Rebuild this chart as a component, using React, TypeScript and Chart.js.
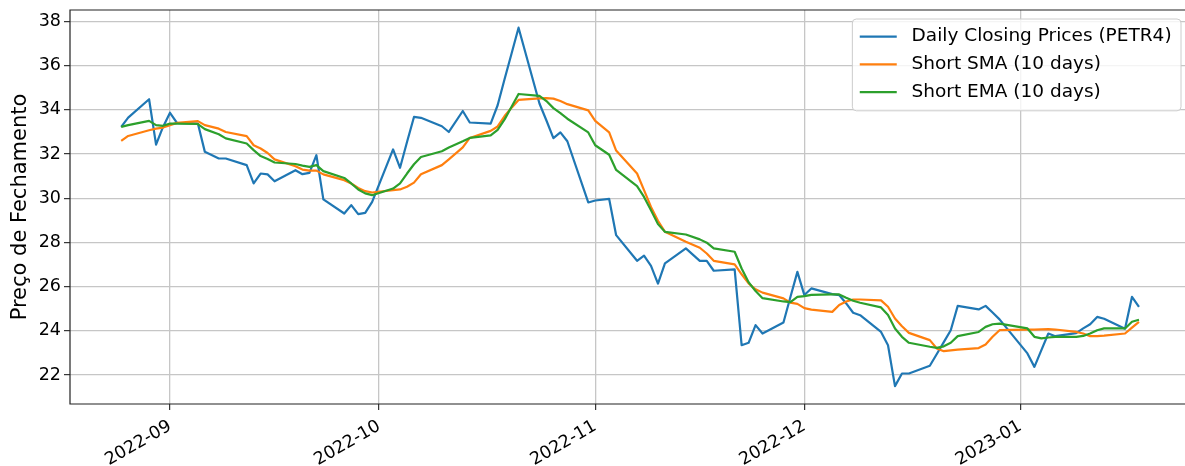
import React, { useEffect, useRef } from 'react';
import { Chart, registerables } from 'chart.js';

Chart.register(...registerables);

// ---------- data ----------
const tradingDates: string[] = [
  '2022-08-25', '2022-08-26', '2022-08-29', '2022-08-30', '2022-08-31',
  '2022-09-01', '2022-09-02', '2022-09-05', '2022-09-06', '2022-09-08', '2022-09-09', '2022-09-12', '2022-09-13', '2022-09-14', '2022-09-15', '2022-09-16', '2022-09-19', '2022-09-20', '2022-09-21', '2022-09-22', '2022-09-23', '2022-09-26', '2022-09-27', '2022-09-28', '2022-09-29', '2022-09-30',
  '2022-10-03', '2022-10-04', '2022-10-05', '2022-10-06', '2022-10-07', '2022-10-10', '2022-10-11', '2022-10-13', '2022-10-14', '2022-10-17', '2022-10-18', '2022-10-19', '2022-10-20', '2022-10-21', '2022-10-24', '2022-10-25', '2022-10-26', '2022-10-27', '2022-10-28', '2022-10-31',
  '2022-11-01', '2022-11-03', '2022-11-04', '2022-11-07', '2022-11-08', '2022-11-09', '2022-11-10', '2022-11-11', '2022-11-14', '2022-11-16', '2022-11-17', '2022-11-18', '2022-11-21', '2022-11-22', '2022-11-23', '2022-11-24', '2022-11-25', '2022-11-28', '2022-11-29', '2022-11-30',
  '2022-12-01', '2022-12-02', '2022-12-05', '2022-12-06', '2022-12-07', '2022-12-08', '2022-12-09', '2022-12-12', '2022-12-13', '2022-12-14', '2022-12-15', '2022-12-16', '2022-12-19', '2022-12-20', '2022-12-21', '2022-12-22', '2022-12-23', '2022-12-26', '2022-12-27', '2022-12-28', '2022-12-29',
  '2023-01-02', '2023-01-03', '2023-01-04', '2023-01-05', '2023-01-06', '2023-01-09', '2023-01-10', '2023-01-11', '2023-01-12', '2023-01-13', '2023-01-16', '2023-01-17', '2023-01-18',
];

const closePrices: number[] = [
  33.23, 33.65, 34.48, 32.43, 33.23,
  33.87, 33.41, 33.38, 32.10, 31.80, 31.80, 31.50, 30.67, 31.12, 31.08, 30.77, 31.27, 31.09, 31.15, 31.95, 29.95, 29.31, 29.69, 29.28, 29.34, 29.84,
  32.21, 31.38, 32.55, 33.68, 33.64, 33.26, 33.00, 33.95, 33.43, 33.38, 34.21, 35.40, 36.55, 37.72, 34.29, 33.52, 32.72, 32.98, 32.58, 29.81,
  29.90, 29.97, 28.33, 27.17, 27.40, 26.94, 26.14, 27.05, 27.73, 27.17, 27.17, 26.72, 26.78, 23.35, 23.46, 24.26, 23.88, 24.38, 25.53, 26.67,
  25.62, 25.92, 25.66, 25.62, 25.24, 24.82, 24.71, 23.95, 23.35, 21.50, 22.07, 22.07, 22.42, 22.95, 23.49, 24.03, 25.13, 24.97, 25.13, 24.83, 24.52,
  22.98, 22.37, 23.13, 23.88, 23.76, 23.90, 24.11, 24.30, 24.63, 24.55, 24.10, 25.54, 25.09,
];

const smaValues: number[] = [
  32.60, 32.82, 33.08, 33.15, 33.20,
  33.31, 33.41, 33.49, 33.31, 33.15, 33.00, 32.81, 32.40, 32.25, 32.05, 31.76, 31.45, 31.30, 31.25, 31.25, 31.08, 30.82, 30.67, 30.47, 30.32, 30.26,
  30.37, 30.40, 30.52, 30.71, 31.09, 31.50, 31.76, 32.30, 32.73, 33.05, 33.25, 33.72, 34.10, 34.45, 34.52, 34.53, 34.51, 34.40, 34.26, 33.98,
  33.50, 32.98, 32.16, 31.12, 30.37, 29.61, 28.98, 28.48, 28.03, 27.76, 27.50, 27.17, 27.01, 26.56, 26.15, 25.88, 25.73, 25.47, 25.28, 25.22,
  25.03, 24.96, 24.86, 25.17, 25.33, 25.42, 25.42, 25.38, 25.09, 24.56, 24.21, 23.91, 23.58, 23.20, 23.08, 23.12, 23.15, 23.22, 23.38, 23.73, 24.03,
  24.06, 24.06, 24.07, 24.08, 24.06, 23.95, 23.88, 23.76, 23.76, 23.78, 23.88, 24.15, 24.41,
];

const emaValues: number[] = [
  33.23, 33.31, 33.50, 33.31, 33.28,
  33.38, 33.38, 33.36, 33.13, 32.90, 32.71, 32.48, 32.18, 31.91, 31.78, 31.62, 31.55, 31.48, 31.42, 31.50, 31.23, 30.92, 30.67, 30.40, 30.22, 30.14,
  30.44, 30.67, 31.12, 31.54, 31.87, 32.13, 32.30, 32.58, 32.73, 32.85, 33.10, 33.57, 34.14, 34.72, 34.63, 34.40, 34.08, 33.85, 33.60, 32.98,
  32.40, 31.97, 31.28, 30.55, 30.06, 29.46, 28.83, 28.48, 28.36, 28.14, 27.99, 27.73, 27.58, 26.82, 26.20, 25.80, 25.48, 25.33, 25.30, 25.54,
  25.57, 25.63, 25.65, 25.65, 25.50, 25.36, 25.27, 25.06, 24.72, 24.11, 23.73, 23.46, 23.28, 23.23, 23.30, 23.46, 23.76, 23.95, 24.18, 24.30, 24.33,
  24.11, 23.73, 23.66, 23.70, 23.73, 23.73, 23.77, 23.88, 24.03, 24.11, 24.11, 24.41, 24.50,
];

const seriesLabels: string[] = ['Daily Closing Prices (PETR4)', 'Short SMA (10 days)', 'Short EMA (10 days)'];
const seriesColors: string[] = ['#1f77b4', '#ff7f0e', '#2ca02c'];

const xTickDates: string[] = ['2022-09-01', '2022-10-01', '2022-11-01', '2022-12-01', '2023-01-01'];
const xTickLabels: string[] = ['2022-09', '2022-10', '2022-11', '2022-12', '2023-01'];
const yTicks: number[] = [22, 24, 26, 28, 30, 32, 34, 36, 38];
const yAxisTitle = 'Preço de Fechamento';

// ---------- helpers ----------
const BASE = Date.UTC(2022, 8, 1);
const toDay = (s: string): number => {
  const [y, m, d] = s.split('-').map(Number);
  return (Date.UTC(y, m - 1, d) - BASE) / 86400000;
};

const FONT = "'DejaVu Sans', sans-serif";
const W = 1185;
const H = 466;
const PLOT_LEFT = 70;
const PLOT_TOP = 10;
const PLOT_BOTTOM = 404;

const framePlugin = {
  id: 'mplFrame',
  afterDatasetsDraw(chart: any) {
    const { ctx, chartArea } = chart;
    const { left, top, right, bottom } = chartArea;
    ctx.save();
    ctx.strokeStyle = '#222';
    ctx.lineWidth = 1.2;
    ctx.beginPath();
    ctx.moveTo(right + 5, top);
    ctx.lineTo(left, top);
    ctx.lineTo(left, bottom);
    ctx.lineTo(right + 5, bottom);
    ctx.stroke();
    ctx.restore();
  },
};

const legendPlugin = {
  id: 'mplLegend',
  afterDraw(chart: any) {
    const { ctx } = chart;
    const fs = 18.5;
    const right = 1181;
    const top = 19;
    const pad = 0.4 * fs;
    const handle = 2 * fs;
    const gap = 0.8 * fs;
    const rowH = fs * 1.0;
    const spacing = 0.5 * fs;
    ctx.save();
    ctx.font = `${fs}px ${FONT}`;
    const datasets = chart.data.datasets;
    let maxW = 0;
    datasets.forEach((ds: any) => {
      maxW = Math.max(maxW, ctx.measureText(ds.label).width);
    });
    const boxW = pad * 2 + handle + gap + maxW + 2;
    const boxH = pad * 2 + datasets.length * rowH + (datasets.length - 1) * spacing + 3;
    const left = right - boxW;
    const r = 4;
    ctx.beginPath();
    ctx.moveTo(left + r, top);
    ctx.lineTo(left + boxW - r, top);
    ctx.quadraticCurveTo(left + boxW, top, left + boxW, top + r);
    ctx.lineTo(left + boxW, top + boxH - r);
    ctx.quadraticCurveTo(left + boxW, top + boxH, left + boxW - r, top + boxH);
    ctx.lineTo(left + r, top + boxH);
    ctx.quadraticCurveTo(left, top + boxH, left, top + boxH - r);
    ctx.lineTo(left, top + r);
    ctx.quadraticCurveTo(left, top, left + r, top);
    ctx.closePath();
    ctx.fillStyle = 'rgba(255,255,255,0.8)';
    ctx.fill();
    ctx.strokeStyle = '#cccccc';
    ctx.lineWidth = 1;
    ctx.stroke();
    datasets.forEach((ds: any, i: number) => {
      const cy = top + pad + 1 + i * (rowH + spacing) + rowH / 2;
      ctx.strokeStyle = ds.borderColor;
      ctx.lineWidth = ds.borderWidth;
      ctx.beginPath();
      ctx.moveTo(left + pad, cy);
      ctx.lineTo(left + pad + handle, cy);
      ctx.stroke();
      ctx.fillStyle = '#000';
      ctx.textBaseline = 'middle';
      ctx.textAlign = 'left';
      ctx.fillText(ds.label, left + pad + handle + gap, cy);
    });
    ctx.restore();
  },
};

export default function App() {
  const canvasRef = useRef<HTMLCanvasElement | null>(null);

  useEffect(() => {
    const canvas = canvasRef.current;
    if (!canvas) return;
    const xs = tradingDates.map(toDay);
    const series = [closePrices, smaValues, emaValues];
    const chart = new Chart(canvas, {
      type: 'line',
      data: {
        datasets: series.map((vals, k) => ({
          label: seriesLabels[k],
          data: vals.map((v, i) => ({ x: xs[i], y: v })),
          borderColor: seriesColors[k],
          backgroundColor: seriesColors[k],
          borderWidth: 2.2,
          pointRadius: 0,
          tension: 0,
          fill: false,
          borderJoinStyle: 'round',
          order: 2 - k,
        })),
      },
      options: {
        responsive: false,
        animation: false,
        devicePixelRatio: 1,
        layout: { padding: { top: PLOT_TOP, left: 0, right: 0, bottom: 0 } },
        plugins: {
          legend: { display: false },
          tooltip: { enabled: false },
        },
        scales: {
          x: {
            type: 'linear',
            min: (PLOT_LEFT - 170) / 6.971,
            max: (W - 170) / 6.971,
            border: { display: false },
            grid: {
              color: '#c6c6c6',
              lineWidth: 1.3,
              tickLength: 6,
              tickColor: '#222',
              tickWidth: 1.1,
            },
            ticks: {
              autoSkip: false,
              minRotation: 30,
              maxRotation: 30,
              padding: 6,
              color: '#000',
              font: { family: FONT, size: 17.5 },
              callback: (_v: any, i: number) => xTickLabels[i],
            },
            afterBuildTicks: (scale: any) => {
              scale.ticks = xTickDates.map((s) => ({ value: toDay(s) }));
            },
            afterFit: (scale: any) => {
              scale.height = H - PLOT_BOTTOM;
              scale.paddingLeft = 0;
              scale.paddingRight = 0;
            },
          },
          y: {
            type: 'linear',
            min: 20.69,
            max: 38.52,
            border: { display: false },
            grid: {
              color: '#c6c6c6',
              lineWidth: 1.3,
              tickLength: 6,
              tickColor: '#222',
              tickWidth: 1.1,
            },
            ticks: {
              padding: 3,
              color: '#000',
              font: { family: FONT, size: 17.5 },
              callback: (v: any) => String(v),
            },
            afterBuildTicks: (scale: any) => {
              scale.ticks = yTicks.map((v) => ({ value: v }));
            },
            title: {
              display: true,
              text: yAxisTitle,
              color: '#000',
              font: { family: FONT, size: 21 },
              padding: { top: 8, bottom: 0 },
            },
            afterFit: (scale: any) => {
              scale.width = PLOT_LEFT;
              scale.paddingTop = 0;
              scale.paddingBottom = 0;
            },
          },
        },
      },
      plugins: [framePlugin, legendPlugin],
    } as any);
    return () => chart.destroy();
  }, []);

  return (
    <div style={{ position: 'absolute', left: 0, top: 0, width: W, height: H, background: '#fff' }}>
      <canvas ref={canvasRef} width={W} height={H} style={{ display: 'block', width: W, height: H }} />
    </div>
  );
}
